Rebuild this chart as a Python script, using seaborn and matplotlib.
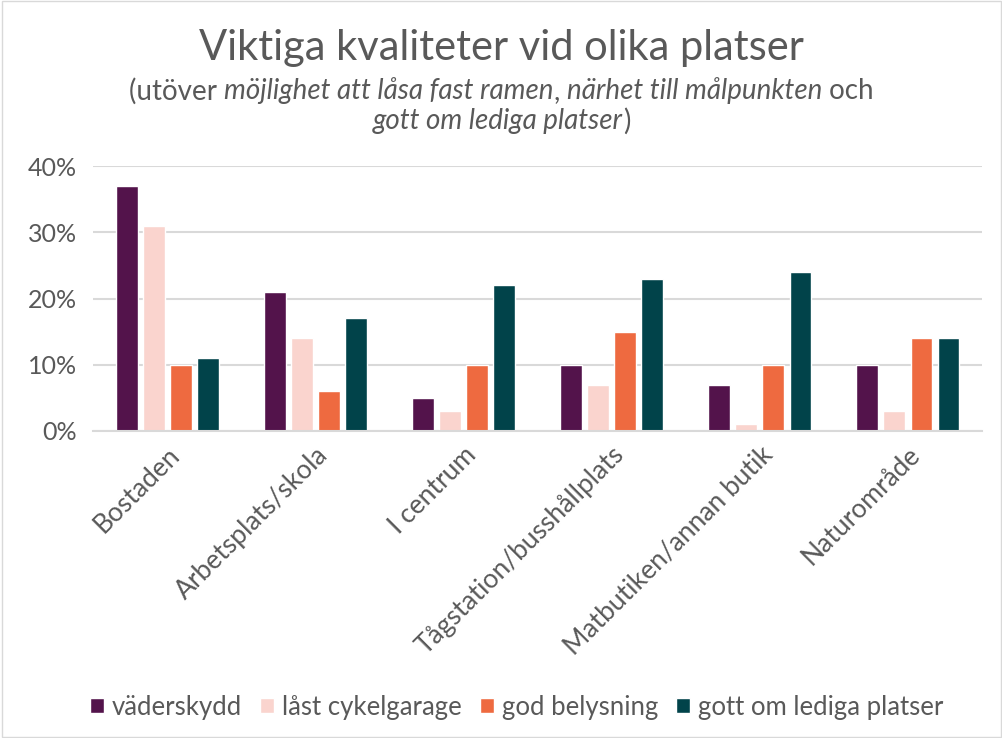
import numpy as np
import pandas as pd
import matplotlib
matplotlib.use("Agg")
import matplotlib.pyplot as plt
import seaborn as sns
from matplotlib.ticker import PercentFormatter

places = ["Bostaden", "Arbetsplats/skola", "I centrum", "Tågstation/busshållplats",
          "Matbutiken/annan butik", "Naturområde"]
qualities = ["väderskydd", "låst cykelgarage", "god belysning", "gott om lediga platser"]
vaderskydd = [0.37, 0.21, 0.05, 0.10, 0.07, 0.10]
cykelgarage = [0.31, 0.14, 0.03, 0.07, 0.01, 0.03]
belysning = [0.10, 0.06, 0.10, 0.15, 0.10, 0.14]
lediga = [0.11, 0.17, 0.22, 0.23, 0.24, 0.14]
colors = ["#53134B", "#FAD4CE", "#EE6A40", "#01434A"]

text_color = "#595959"
font = ["Lato", "DejaVu Sans"]

sns.set_theme(style="white")
plt.rcParams['font.family'] = font

rows = []
for q, values in zip(qualities, [vaderskydd, cykelgarage, belysning, lediga]):
    for p, v in zip(places, values):
        rows.append({"plats": p, "andel": v, "kvalitet": q})
df = pd.DataFrame(rows)

figure = plt.figure(figsize=(10.03, 7.38), dpi=100)
axes = figure.add_axes([0.0932, 0.416, 0.8854, 0.359])

sns.barplot(data=df, x="plats", y="andel", hue="kvalitet", palette=colors,
            width=0.73, gap=0.22, ax=axes, saturation=1)

axes.set_ylim(0, 0.4)
axes.set_yticks([0, 0.1, 0.2, 0.3, 0.4])
axes.yaxis.set_major_formatter(PercentFormatter(1.0, decimals=0))
axes.yaxis.grid(True, color="#D9D9D9", linewidth=1.5)
axes.set_axisbelow(True)
for side in ["top", "right", "left"]:
    axes.spines[side].set_visible(False)
axes.spines["bottom"].set_color("#D9D9D9")
axes.spines["bottom"].set_linewidth(1.5)
axes.set_xlabel("")
axes.set_ylabel("")
axes.tick_params(axis="y", length=0, labelsize=18, labelcolor=text_color, pad=12)
axes.tick_params(axis="x", length=0, labelsize=19, labelcolor=text_color, pad=8)
plt.setp(axes.get_xticklabels(), rotation=45, ha="right", rotation_mode="anchor")

handles, labels = axes.get_legend_handles_labels()
axes.legend(handles, labels, loc="center", bbox_to_anchor=(0.515, 31 / 738),
            bbox_transform=figure.transFigure, ncol=4, frameon=False,
            fontsize=18.5, labelcolor=text_color, handlelength=0.55, handleheight=0.55,
            handletextpad=0.3, columnspacing=0.7)

figure.text(0.5, 1 - 48 / 738, "Viktiga kvaliteter vid olika platser", ha="center",
            va="center", fontsize=30, color=text_color)

# subtitle with mixed upright/italic pieces
lines = [
    [("(utöver ", "normal"), ("möjlighet att låsa fast ramen", "italic"), (", ", "normal"),
     ("närhet till målpunkten", "italic"), (" och", "normal")],
    [("gott om lediga platser", "italic"), (")", "normal")],
]
line_y = [1 - 91 / 738, 1 - 121 / 738]
renderer = figure.canvas.get_renderer()
for parts, y in zip(lines, line_y):
    texts = []
    for s, style in parts:
        t = figure.text(0, y, s, ha="left", va="center", fontsize=20,
                        color=text_color, style=style)
        texts.append(t)
    widths = [t.get_window_extent(renderer).width / figure.bbox.width for t in texts]
    x = 0.5 - sum(widths) / 2
    for t, w in zip(texts, widths):
        t.set_x(x)
        x += w

figure.patches.append(plt.Rectangle((0.002, 0.002), 0.996, 0.996, transform=figure.transFigure,
                                    fill=False, edgecolor="#D9D9D9", linewidth=1))

figure.savefig("out.png", dpi=100)
